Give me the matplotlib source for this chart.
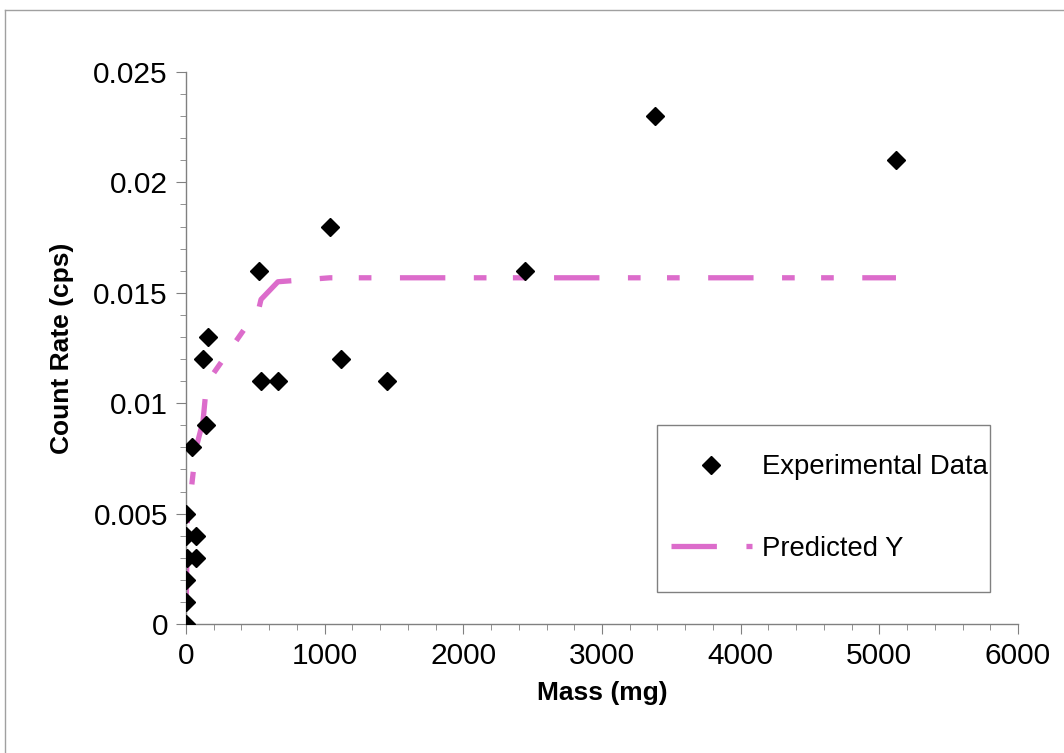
import matplotlib
matplotlib.use("Agg")
import matplotlib.pyplot as plt
from matplotlib.lines import Line2D
from matplotlib.patches import Rectangle
from matplotlib.ticker import MultipleLocator

plt.rcParams['font.family'] = ['Liberation Sans', 'DejaVu Sans']

# experimental data
mass = [0, 0, 0, 10, 70, 0, 70, 0, 40, 144, 123, 159, 526, 541, 663, 1038, 1117, 1449, 2444, 3381, 5120]
count_rate = [0, 0.001, 0.002, 0.003, 0.003, 0.004, 0.004, 0.005, 0.008, 0.009, 0.012, 0.013,
              0.016, 0.011, 0.011, 0.018, 0.012, 0.011, 0.016, 0.023, 0.021]

# predicted curve
pred_mass = [0, 10, 40, 70, 123, 144, 159, 526, 541, 663, 1038, 1117, 1449, 2444, 3381, 5120]
pred_y = [0.0, 0.0047, 0.0062, 0.0079, 0.0092, 0.0106, 0.0110, 0.0143, 0.0147, 0.0155,
          0.01568, 0.01568, 0.01568, 0.01568, 0.01568, 0.01568]

pink = '#dc6ccb'
W, H = 1064, 753

fig = plt.figure(figsize=(10.64, 7.53), dpi=100)
ax = fig.add_axes([186 / W, 1 - 624 / H, 832 / W, 552 / H])

ax.plot(pred_mass, pred_y, color=pink, lw=3.8,
        ls=(24.1, (8.6, 5.4, 2.4, 5.0, 2.4, 5.4)), dash_capstyle='butt', zorder=2)
ax.plot(mass, count_rate, 'D', color='black', ms=9, ls='none', zorder=3)

ax.set_xlim(0, 6000)
ax.set_ylim(0, 0.025)
ax.xaxis.set_major_locator(MultipleLocator(1000))
ax.xaxis.set_minor_locator(MultipleLocator(200))
ax.yaxis.set_minor_locator(MultipleLocator(0.001))
ax.set_yticks([0, 0.005, 0.01, 0.015, 0.02, 0.025])
ax.set_yticklabels(['0', '0.005', '0.01', '0.015', '0.02', '0.025'])

for s in ['top', 'right']:
    ax.spines[s].set_visible(False)
for s in ['left', 'bottom']:
    ax.spines[s].set_color('#808080')
    ax.spines[s].set_linewidth(1.0)
ax.tick_params(which='major', length=7, color='#808080', labelsize=21.5, pad=6)
ax.tick_params(which='minor', length=4, color='#808080')

ax.set_xlabel('Mass (mg)', fontsize=19, fontweight='bold', labelpad=8)
ax.set_ylabel('Count Rate (cps)', fontsize=19, fontweight='bold', labelpad=14)

handles = [
    Line2D([], [], marker='D', color='black', ms=9, ls='none'),
    Line2D([], [], color=pink, lw=3.8, dashes=(8.6, 5.6, 2.4, 20), dash_capstyle='butt'),
]
leg = ax.legend(handles, ['Experimental Data', 'Predicted Y'], fontsize=19.8,
                loc='center', bbox_to_anchor=(829 / W, 1 - 508 / H),
                bbox_transform=fig.transFigure, frameon=False,
                handlelength=2.95, handletextpad=0.36,
                labelspacing=2.0, borderpad=0, borderaxespad=0)

# legend box
fig.add_artist(Rectangle((657 / W, 1 - 592 / H), 333 / W, 167 / H, transform=fig.transFigure,
                         facecolor='none', edgecolor='#808080', lw=1.0))

# outer frame of the chart area
fig.add_artist(Line2D([5 / W, 1], [1 - 10 / H, 1 - 10 / H], transform=fig.transFigure,
                      color='#a0a0a0', lw=1))
fig.add_artist(Line2D([5 / W, 5 / W], [0, 1 - 10 / H], transform=fig.transFigure,
                      color='#a0a0a0', lw=1))

fig.savefig('out.png', dpi=100)
